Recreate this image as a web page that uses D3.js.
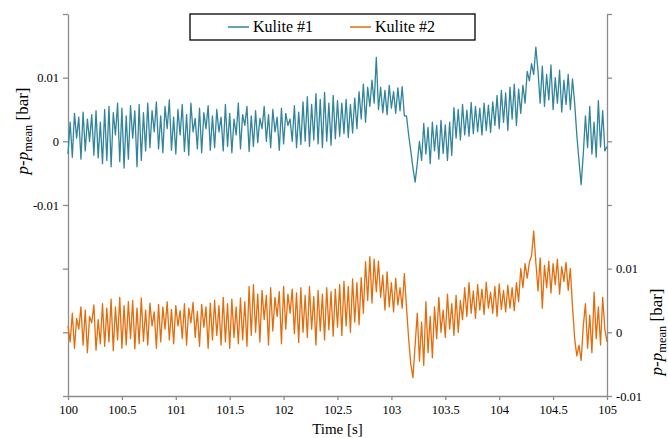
<!DOCTYPE html>
<meta charset="utf-8">
<style>
body { margin: 0; background: #fff; }
svg { font-family: "Liberation Serif", "Times New Roman", serif; }
.axis path, .axis line { stroke: #8c8c8c; stroke-width: 1.3px; }
.axis text { fill: #000; font-size: 12.5px; font-family: "Liberation Serif", "Times New Roman", serif; }
</style>
<svg width="668" height="438"></svg>
<script src="https://d3js.org/d3.v7.min.js"></script>
<script>
// sample clock: 100 s to 105 s, one sample every 0.02 s
var t0 = 100, dt = 0.02;

// pressure fluctuation p - p_mean, in units of 1e-4 bar
var kulite1 = [
  -20, 30, -25, 44, 5, 38, -28, 46, -15, 35, 0, 42, -22, 48, -26, 30,
  -35, 50, -30, 55, -40, 45, 10, 60, -32, 52, -42, 40, -28, 56, 5, 48, -40, 58, -30, 45,
  -15, 60, -10, 48, 15, 62, -12, 40, -18, 55, 20, 65, -14, 38, -20, 50, 10, 58, -16, 42, -22, 60, 15, 36, -12, 52, -18, 45, 20, 56, -14, 40,
  -10, 50, 15, 38, -15, 58, -8, 44, -18, 35, 10, 60, -12, 42, 25, 55, -16, 40, -8,
  48, -2, 36, 20, 55, 0, 42, -10, 50, 15, 38, -14, 52, -4, 44, 25, 35, 0, 56, -10, 46,
  -5, 62, 0, 70, -8, 58, 2, 75, -4, 66, -10, 77, 0, 60, -6, 72, 4, 64,
  8, 60, 12, 66, 6, 58, 13, 68, 20,
  78, 35, 90, 30, 85, 55, 96, 60, 132,
  50, 85, 45, 80, 42, 88, 52, 78, 44, 84, 48, 86, 40,
  40, 10, -15, -42, -64, -35,
  0, -30, 28, -20, 22, -35, 30, -15, 25, -28, 33, -19, 26, -30, 30, -22, 53,
  5, 50, 2, 58, 10, 49, 8, 61, 12, 55, 15, 52, 10, 60, 17, 57, 14, 62,
  25, 72, 20, 80, 30, 76, 17, 85, 35, 90, 25, 82, 44, 88,
  60, 110, 95, 122, 105, 148,
  110, 60, 118, 55, 105, 65, 120, 50, 100, 60, 112, 46, 96, 58, 105, 50, 98,
  60, 10, -30, -68, -20,
  40, -10, 55, -20, 30, -25, 64, -9, 48, -15, -8
];

var kulite2 = [
  10, -15, 30, -25, 22, 5, 40, -20, 35, -32, 25, 15, 43, -28, 20, -18,
  45, -22, 38, -15, 52, -29, 40, -12, 55, -25, 42, -20, 48, -10, 50, -26, 38, -18, 54, -14,
  35, -20, 46, 10, 32, -25, 44, -15, 40, 5, 48, -12, 36, -18, 42, 10, 34, -10, 45, -20, 38, 15, 47, -8, 33, -22, 44, 8, 40, -25, 46, -12,
  50, -5, 42, -20, 55, -15, 45, -25, 52, -8, 40, -18, 54, -12, 48, -22, 72, -5, 75,
  0, 60, -15, 66, 20, 58, -20, 70, 2, 55, 25, 64, -18, 72, 5, 60, 30, 68, -2, 62, -16,
  70, 0, 58, -8, 72, 5, 56, -20, 66, 2, 60, -12, 70, 4, 64, -6, 68, 8,
  75, -5, 80, 10, 72, 0, 84, 16, 78, 12, 86, 30,
  111, 50, 119, 46, 115, 64, 112, 55,
  90, 35, 95, 40, 78, 32, 85, 43, 70, 38, 92, 40,
  -10, -50, -71,
  -20, 30, -45, 16, -52, 48, -32, 25, -40, 40,
  -10, 55, 0, 35, -8, 60, 5, 45, -5, 58, 0, 50, 20,
  70, 25, 78, 30, 65, 22, 75, 35, 68, 28, 79, 38, 63, 30, 72, 25, 76, 36, 66, 32, 74, 38, 70, 34, 78, 48,
  100, 70, 108, 85, 110, 120, 159,
  110, 65, 117, 38, 105, 70, 112, 62, 108, 75, 115, 60, 103, 80, 110, 66, 100,
  40, -10, -37, -20, -44, 10,
  45, -25, 27, -32, 63, -10, 40, -20, 55, 5, -15
];

var seriesNames = ["Kulite #1", "Kulite #2"];
var seriesColors = ["#31849b", "#e46c0a"];

var xTicks = [100, 100.5, 101, 101.5, 102, 102.5, 103, 103.5, 104, 104.5, 105];
var leftTicks = [-0.04, -0.03, -0.02, -0.01, 0, 0.01, 0.02];
var rightTicks = [-0.01, 0, 0.01, 0.02, 0.03, 0.04, 0.05];
var labelledTicks = [-0.01, 0, 0.01];

var svg = d3.select("svg"),
    margin = {top: 14, right: 61, bottom: 42, left: 68},
    width = +svg.attr("width") - margin.left - margin.right,
    height = +svg.attr("height") - margin.top - margin.bottom;

var g = svg.append("g").attr("transform", "translate(" + margin.left + "," + margin.top + ")");

var x = d3.scaleLinear().domain([100, 105]).range([0, width]);
var yLeft = d3.scaleLinear().domain([-0.04, 0.02]).range([height, 0]);
var yRight = d3.scaleLinear().domain([-0.01, 0.05]).range([height, 0]);

function fmt(d) {
  var v = Math.round(d * 1000) / 1000;
  if (labelledTicks.indexOf(v) < 0) return "";
  return v === 0 ? "0" : String(v);
}

g.append("g")
    .attr("class", "axis")
    .attr("transform", "translate(0," + height + ")")
    .call(d3.axisBottom(x).tickValues(xTicks).tickSize(4).tickSizeOuter(0).tickPadding(5)
      .tickFormat(function(d) { return String(d); }));

g.append("g")
    .attr("class", "axis")
    .call(d3.axisLeft(yLeft).tickValues(leftTicks).tickSize(5).tickSizeOuter(0).tickPadding(4).tickFormat(fmt));

g.append("g")
    .attr("class", "axis")
    .attr("transform", "translate(" + width + ",0)")
    .call(d3.axisRight(yRight).tickValues(rightTicks).tickSize(5).tickSizeOuter(0).tickPadding(4).tickFormat(fmt));

// the two pressure traces
var lineLeft = d3.line()
    .x(function(d, i) { return x(t0 + i * dt); })
    .y(function(d) { return yLeft(d * 1e-4); });
var lineRight = d3.line()
    .x(function(d, i) { return x(t0 + i * dt); })
    .y(function(d) { return yRight(d * 1e-4); });

g.append("path")
    .datum(kulite1)
    .attr("fill", "none")
    .attr("stroke", seriesColors[0])
    .attr("stroke-width", 1.3)
    .attr("stroke-linejoin", "round")
    .attr("d", lineLeft);

g.append("path")
    .datum(kulite2)
    .attr("fill", "none")
    .attr("stroke", seriesColors[1])
    .attr("stroke-width", 1.3)
    .attr("stroke-linejoin", "round")
    .attr("d", lineRight);

// axis titles
svg.append("text")
    .attr("x", 68 + width / 2)
    .attr("y", 434)
    .attr("text-anchor", "middle")
    .attr("font-size", 15)
    .text("Time [s]");

function yTitle(cx, cy) {
  var t = svg.append("text")
      .attr("transform", "translate(" + cx + "," + cy + ") rotate(-90)")
      .attr("text-anchor", "middle")
      .attr("font-size", 17);
  t.append("tspan").attr("font-style", "italic").text("p");
  t.append("tspan").text("-");
  t.append("tspan").attr("font-style", "italic").text("p");
  t.append("tspan").attr("font-size", 12.5).attr("dy", 4).text("mean");
  t.append("tspan").attr("dy", -4).text(" [bar]");
}
yTitle(28, 131);
yTitle(662, 332);

// legend
var legend = svg.append("g").attr("transform", "translate(190,14)");
legend.append("rect")
    .attr("width", 285)
    .attr("height", 26)
    .attr("fill", "#fff")
    .attr("stroke", "#000")
    .attr("stroke-width", 1.3);

var items = legend.selectAll(".item")
    .data(seriesNames)
    .enter().append("g")
      .attr("transform", function(d, i) { return "translate(" + (38 + i * 122) + ",13)"; });
items.append("line")
    .attr("x1", 0).attr("x2", 21)
    .attr("stroke", function(d, i) { return seriesColors[i]; })
    .attr("stroke-width", 1.5);
items.append("text")
    .attr("x", 25)
    .attr("y", 5)
    .attr("font-size", 16)
    .text(function(d) { return d; });
</script>
